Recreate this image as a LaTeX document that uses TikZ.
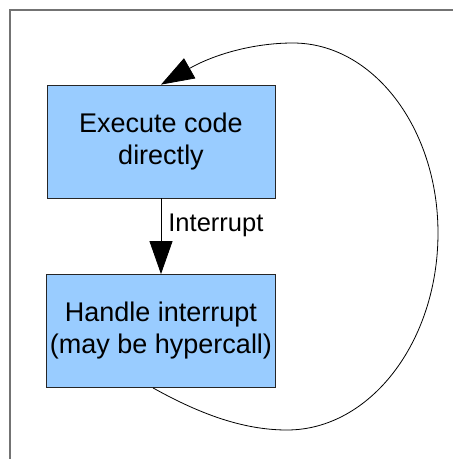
\documentclass[tikz,border=0pt]{standalone}
\usepackage{fontspec}
\setmainfont{Liberation Sans}
\usetikzlibrary{arrows.meta}
\definecolor{boxblue}{RGB}{153,204,255}

\begin{document}
\begin{tikzpicture}[x=1pt,y=-1pt,
  box/.style={draw=black!85,fill=boxblue,line width=0.8pt,minimum width=228pt,minimum height=113pt,align=center,font=\fontsize{27}{32}\selectfont},
  bigtip/.style={line width=0.8pt,-{Triangle[length=33pt,width=23pt]}}]
  \useasboundingbox (0,0) rectangle (453,459);
  \draw[black!55,line width=1.4pt] (10,459) -- (10,10) -- (453,10);
  \node[box] (exec) at (161,141.5) {Execute code\\ directly};
  \node[box] (handle) at (161,331) {Handle interrupt\\ (may be hypercall)};
  \draw[bigtip] (exec) -- node[pos=0.35,anchor=west,xshift=7pt,inner sep=0pt,font=\fontsize{25.5}{28}\selectfont] (irq) {Interrupt} (handle);
  % loop back round the right side
  \draw[bigtip] ([xshift=-8pt]handle.south) .. controls (198,413) and (242,430) .. (287,430)
    .. controls (370,430) and (438,342) .. (438,233)
    .. controls (438,128) and (373,43) .. (293,43)
    .. controls (253,43) and (214,54.5) .. (exec.north);
\end{tikzpicture}
\end{document}
